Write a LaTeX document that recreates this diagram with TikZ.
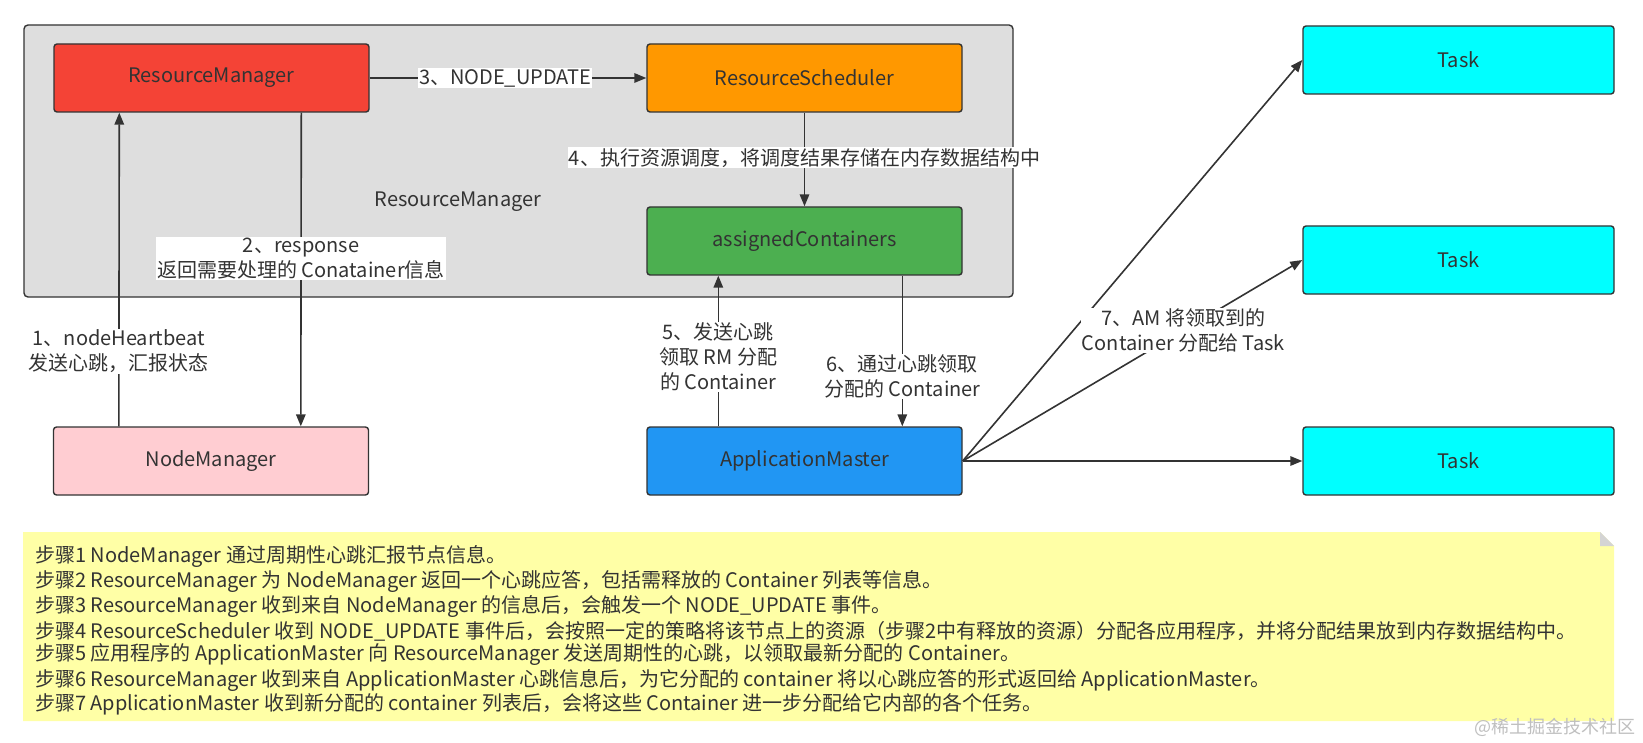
\documentclass[tikz,border=0pt]{standalone}
\usepackage{fontspec}
\setmainfont{Noto Sans CJK SC}
\usetikzlibrary{arrows.meta}
\definecolor{linec}{HTML}{333333}
\definecolor{textc}{HTML}{333333}
\definecolor{grayfill}{HTML}{DEDEDE}
\definecolor{rmred}{HTML}{F44336}
\definecolor{rsorange}{HTML}{FF9800}
\definecolor{acgreen}{HTML}{4CAF50}
\definecolor{nmpink}{HTML}{FFCDD2}
\definecolor{amblue}{HTML}{2196F3}
\definecolor{taskcyan}{HTML}{00FFFF}
\definecolor{noteyellow}{HTML}{FFFFA6}
\definecolor{foldgray}{HTML}{D4D4D4}
\begin{document}
\begin{tikzpicture}[x=1pt,y=-1pt,
  box/.style={draw=linec, line width=1.4pt, rounded corners=3pt, minimum width=315pt, minimum height=68pt, inner sep=0pt, text=textc, font=\fontsize{20}{23}\selectfont},
  taskbox/.style={box, minimum width=311pt, fill=taskcyan},
  arr/.style={draw=linec, line width=1.6pt, -{Triangle[length=12pt,width=9.5pt]}},
  lbl/.style={fill=white, inner sep=1pt, align=center, text=textc, font=\fontsize{20}{25}\selectfont},
  noteline/.style={anchor=west, inner sep=0pt, text=textc, font=\fontsize{20}{23}\selectfont}
]
\useasboundingbox (0,0) rectangle (1643,743);
% container
\node[draw=linec, line width=1.4pt, rounded corners=4pt, fill=grayfill, minimum width=989pt, minimum height=272pt, inner sep=0pt] (rmgroup) at (518.5,161) {};
\node[text=textc, font=\fontsize{20}{23}\selectfont, inner sep=0pt] (rmlabel) at (458,202) {ResourceManager};
% boxes
\node[box, fill=rmred] (rm) at (211.5,78) {ResourceManager};
\node[box, fill=rsorange] (rs) at (804.5,78) {ResourceScheduler};
\node[box, fill=acgreen] (ac) at (804.5,241) {assignedContainers};
\node[box, fill=nmpink] (nm) at (211,461) {NodeManager};
\node[box, fill=amblue] (am) at (804.5,461) {ApplicationMaster};
\node[taskbox] (t1) at (1458.5,60) {Task};
\node[taskbox] (t2) at (1458.5,260) {Task};
\node[taskbox] (t3) at (1458.5,461) {Task};
% connectors
\draw[arr] (rm.east) -- node[lbl, pos=0.49] {3、NODE\_UPDATE} (rs.west);
\draw[arr] (rs.south) -- node[lbl, pos=0.48] {4、执行资源调度，将调度结果存储在内存数据结构中} (ac.north);
\draw[arr] ([xshift=66pt]nm.north west) -- node[lbl, pos=0.24] {1、nodeHeartbeat\\发送心跳，汇报状态} ([xshift=66pt]rm.south west);
\draw[arr] ([xshift=248pt]rm.south west) -- node[lbl, pos=0.465] {2、response\\返回需要处理的 Conatainer信息} ([xshift=248pt]nm.north west);
\draw[arr] ([xshift=72pt]am.north west) -- node[lbl, pos=0.46] {5、发送心跳\\领取 RM 分配\\的 Container} ([xshift=72pt]ac.south west);
\draw[arr] ([xshift=256pt]ac.south west) -- node[lbl, pos=0.67] {6、通过心跳领取\\分配的 Container} ([xshift=256pt]am.north west);
\draw[arr] (am.east) -- (t1.west);
\draw[arr] (am.east) -- node[lbl, pos=0.65] {7、AM 将领取到的\\Container 分配给 Task} (t2.west);
\draw[arr] (am.east) -- (t3.west);
% note
\fill[noteyellow] (23,532) -- (1600,532) -- (1614,546) -- (1614,721) -- (23,721) -- cycle;
\fill[foldgray] (1600,532) -- (1614,546) -- (1600,546) -- cycle;
\node[noteline] (n1) at (35,556) {步骤1 NodeManager 通过周期性心跳汇报节点信息。};
\node[noteline] (n2) at (35,581) {步骤2 ResourceManager 为 NodeManager 返回一个心跳应答，包括需释放的 Container 列表等信息。};
\node[noteline] (n3) at (35,606) {步骤3 ResourceManager 收到来自 NodeManager 的信息后，会触发一个 NODE\_UPDATE 事件。};
\node[noteline] (n4) at (35,631) {步骤4 ResourceScheduler 收到 NODE\_UPDATE 事件后，会按照一定的策略将该节点上的资源（步骤2中有释放的资源）分配各应用程序，并将分配结果放到内存数据结构中。};
\node[noteline] (n5) at (35,655) {步骤5 应用程序的 ApplicationMaster 向 ResourceManager 发送周期性的心跳，以领取最新分配的 Container。};
\node[noteline] (n6) at (35,680) {步骤6 ResourceManager 收到来自 ApplicationMaster 心跳信息后，为它分配的 container 将以心跳应答的形式返回给 ApplicationMaster。};
\node[noteline] (n7) at (35,704) {步骤7 ApplicationMaster 收到新分配的 container 列表后，会将这些 Container 进一步分配给它内部的各个任务。};
\node[anchor=east, inner sep=0pt, text=black!25, font=\fontsize{18}{20}\selectfont] (wm) at (1636,727) {@稀土掘金技术社区};
\end{tikzpicture}
\end{document}
